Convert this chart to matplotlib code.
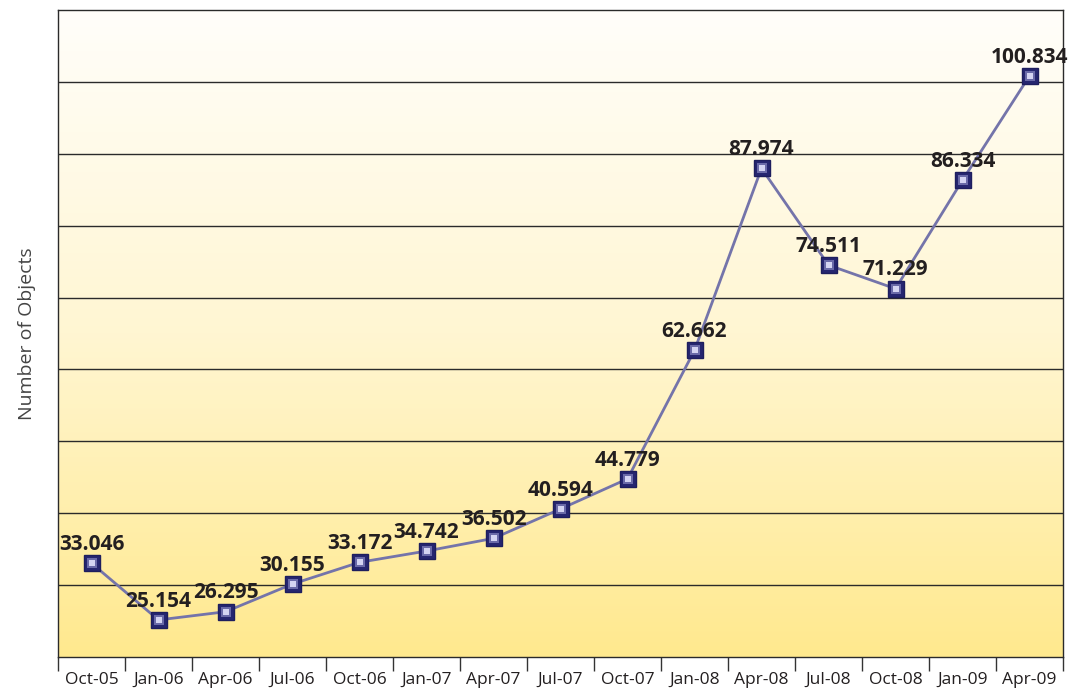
import matplotlib
matplotlib.use("Agg")
import matplotlib.pyplot as plt
import numpy as np
from matplotlib.colors import LinearSegmentedColormap

categories = ["Oct-05", "Jan-06", "Apr-06", "Jul-06", "Oct-06", "Jan-07", "Apr-07",
              "Jul-07", "Oct-07", "Jan-08", "Apr-08", "Jul-08", "Oct-08", "Jan-09", "Apr-09"]
values = [33.046, 25.154, 26.295, 30.155, 33.172, 34.742, 36.502,
          40.594, 44.779, 62.662, 87.974, 74.511, 71.229, 86.334, 100.834]
value_labels = ["33.046", "25.154", "26.295", "30.155", "33.172", "34.742", "36.502",
                "40.594", "44.779", "62.662", "87.974", "74.511", "71.229", "86.334", "100.834"]

plt.rcParams['font.family'] = ['Open Sans', 'DejaVu Sans']

fig = plt.figure(figsize=(10.82, 6.91), dpi=100)
ax = fig.add_axes([58/1082, 34/691, (1063-58)/1082, (657-10)/691])

x = np.arange(len(categories))
ax.set_xlim(-0.5, len(categories) - 0.5)
ax.set_ylim(20, 110)

# gradient background
cmap = LinearSegmentedColormap.from_list("bg", ["#FFE98E", "#FFF6D2", "#FFFEFA"])
grad = np.linspace(0, 1, 256).reshape(-1, 1)
ax.imshow(grad, aspect="auto", cmap=cmap, origin="lower",
          extent=(-0.5, len(categories) - 0.5, 20, 110), zorder=0)

for yv in range(30, 110, 10):
    ax.axhline(yv, color="#2a2a2a", lw=1.0, zorder=1)

ax.plot(x, values, color="#7474AA", lw=2.0, zorder=2)
ax.plot(x, values, linestyle="none", marker="s", markersize=12,
        markerfacecolor="#262670", markeredgecolor="#1E1E5E", markeredgewidth=1.0, zorder=3)
ax.plot(x, values, linestyle="none", marker="s", markersize=7.5,
        markerfacecolor="#6A6AA8", markeredgewidth=0, zorder=4)
ax.plot(x, values, linestyle="none", marker="s", markersize=4,
        markerfacecolor="#D4D4F2", markeredgewidth=0, zorder=5)

for xi, v, lab in zip(x, values, value_labels):
    ax.annotate(lab, (xi, v), xytext=(0, 6), textcoords="offset points",
                ha="center", va="bottom", fontsize=15, fontweight="bold",
                color="#231F20", zorder=6, annotation_clip=False)

ax.set_xticks(x)
ax.set_xticklabels(categories, fontsize=12.5, color="#231F20")
ax.tick_params(axis="x", which="major", length=0, pad=11)
ax.set_xticks(np.arange(-0.5, len(categories)), minor=True)
ax.tick_params(axis="x", which="minor", length=10, width=1, color="#333333")
ax.set_yticks([])
ax.set_ylabel("Number of Objects", fontsize=14, color="#444444", labelpad=16)

for s in ax.spines.values():
    s.set_color("#2a2a2a")
    s.set_linewidth(1.0)

fig.savefig("out.png", dpi=100)
